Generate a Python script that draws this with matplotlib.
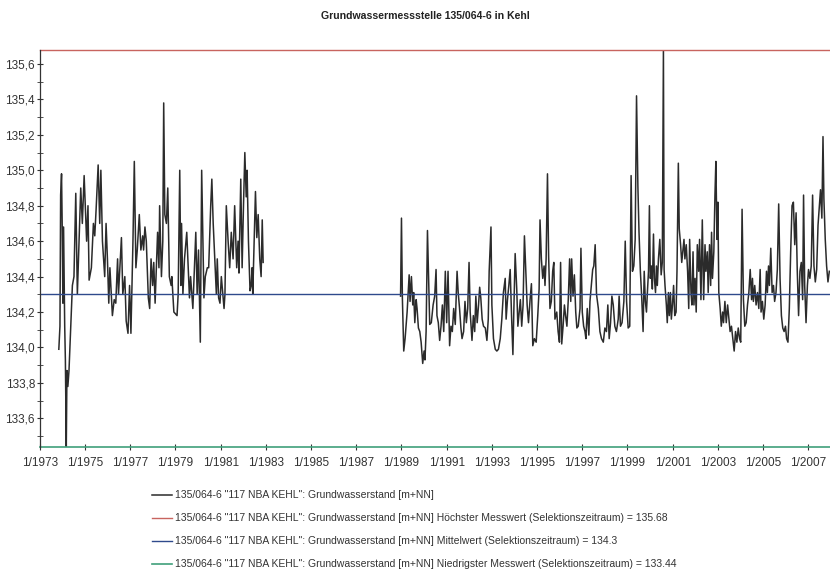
import numpy as np
import matplotlib
matplotlib.use("Agg")
import matplotlib.pyplot as plt
from matplotlib.ticker import MultipleLocator, FixedLocator, FuncFormatter

seg1_years = [
    1973.84, 1973.89, 1973.92, 1973.96, 1973.99, 1974.02, 1974.05, 1974.10, 1974.13, 1974.17,
    1974.20, 1974.24, 1974.29, 1974.44, 1974.51, 1974.59, 1974.66, 1974.81, 1974.88, 1974.96,
    1975.07, 1975.13, 1975.18, 1975.28, 1975.37, 1975.43, 1975.49, 1975.58, 1975.65, 1975.70,
    1975.77, 1975.87, 1975.93, 1975.99, 1976.05, 1976.10, 1976.21, 1976.29, 1976.36, 1976.44,
    1976.48, 1976.61, 1976.67, 1976.76, 1976.82, 1976.90, 1976.97, 1977.03, 1977.12, 1977.18,
    1977.25, 1977.31, 1977.40, 1977.47, 1977.55, 1977.59, 1977.65, 1977.71, 1977.80, 1977.86,
    1977.92, 1977.99, 1978.04, 1978.10, 1978.21, 1978.27, 1978.30, 1978.38, 1978.44, 1978.48,
    1978.53, 1978.60, 1978.66, 1978.73, 1978.81, 1978.84, 1978.93, 1979.07, 1979.12, 1979.19,
    1979.24, 1979.27, 1979.33, 1979.40, 1979.50, 1979.58, 1979.62, 1979.67, 1979.77, 1979.81,
    1979.90, 1979.96, 1980.02, 1980.10, 1980.16, 1980.26, 1980.32, 1980.41, 1980.47, 1980.56,
    1980.61, 1980.67, 1980.81, 1980.85, 1980.91, 1980.97, 1981.03, 1981.15, 1981.19, 1981.25,
    1981.33, 1981.40, 1981.47, 1981.55, 1981.62, 1981.71, 1981.77, 1981.81, 1981.89, 1981.95,
    1982.01, 1982.07, 1982.13, 1982.17, 1982.23, 1982.30, 1982.35, 1982.39, 1982.42, 1982.48,
    1982.54, 1982.60, 1982.66, 1982.73, 1982.79, 1982.84, 1982.88,
]
seg1_levels = [
    133.99, 134.12, 134.86, 134.98, 134.68, 134.25, 134.68, 134.12, 133.93, 133.44,
    133.87, 133.78, 133.87, 134.35, 134.40, 134.87, 134.30, 134.90, 134.70, 134.97,
    134.60, 134.80, 134.38, 134.45, 134.70, 134.63, 134.78, 135.03, 134.70, 135.00,
    134.60, 134.40, 134.70, 134.50, 134.25, 134.45, 134.18, 134.27, 134.25, 134.50,
    134.30, 134.62, 134.30, 134.40, 134.15, 134.08, 134.35, 134.08, 134.60, 135.05,
    134.45, 134.55, 134.75, 134.55, 134.63, 134.55, 134.68, 134.60, 134.28, 134.22,
    134.50, 134.35, 134.48, 134.25, 134.65, 134.45, 134.80, 134.40, 134.60, 135.38,
    134.75, 134.70, 134.90, 134.40, 134.35, 134.40, 134.20, 134.18, 134.30, 135.00,
    134.35, 134.70, 134.30, 134.50, 134.65, 134.40, 134.28, 134.40, 134.22, 134.35,
    134.65, 134.30, 134.55, 134.03, 135.00, 134.28, 134.40, 134.45, 134.45, 134.80,
    134.95, 134.70, 134.30, 134.50, 134.28, 134.25, 134.40, 134.22, 134.30, 134.80,
    134.60, 134.45, 134.65, 134.50, 134.80, 134.45, 134.60, 134.42, 134.95, 134.45,
    134.80, 135.10, 134.85, 135.00, 134.60, 134.32, 134.35, 134.45, 134.30, 134.60,
    134.88, 134.62, 134.75, 134.50, 134.40, 134.72, 134.48,
]

seg2_years = [
    1988.96, 1989.00, 1989.04, 1989.10, 1989.16, 1989.25, 1989.34, 1989.38, 1989.44, 1989.50,
    1989.54, 1989.59, 1989.65, 1989.69, 1989.75, 1989.81, 1989.87, 1989.94, 1990.00, 1990.04,
    1990.09, 1990.15, 1990.21, 1990.25, 1990.32, 1990.40, 1990.47, 1990.53, 1990.57, 1990.63,
    1990.69, 1990.75, 1990.81, 1990.87, 1990.94, 1991.00, 1991.06, 1991.13, 1991.19, 1991.25,
    1991.31, 1991.38, 1991.46, 1991.51, 1991.57, 1991.63, 1991.68, 1991.75, 1991.81, 1991.87,
    1991.93, 1991.99, 1992.04, 1992.12, 1992.18, 1992.24, 1992.29, 1992.35, 1992.41, 1992.46,
    1992.51, 1992.57, 1992.63, 1992.71, 1992.78, 1992.84, 1992.88, 1992.96, 1993.00, 1993.07,
    1993.15, 1993.22, 1993.29, 1993.37, 1993.44, 1993.51, 1993.59, 1993.63, 1993.69, 1993.75,
    1993.81, 1993.87, 1993.93, 1993.97, 1994.03, 1994.10, 1994.15, 1994.21, 1994.26, 1994.32,
    1994.38, 1994.44, 1994.50, 1994.56, 1994.62, 1994.69, 1994.75, 1994.81, 1994.88, 1994.96,
    1995.03, 1995.09, 1995.13, 1995.19, 1995.25, 1995.31, 1995.35, 1995.40, 1995.46, 1995.51,
    1995.57, 1995.63, 1995.69, 1995.74, 1995.79, 1995.87, 1995.93, 1995.99, 1996.04, 1996.09,
    1996.15, 1996.21, 1996.26, 1996.32, 1996.38, 1996.44, 1996.49, 1996.53, 1996.59, 1996.65,
    1996.71, 1996.76, 1996.82, 1996.90, 1996.94, 1997.00, 1997.06, 1997.12, 1997.16, 1997.22,
    1997.29, 1997.34, 1997.40, 1997.46, 1997.51, 1997.57, 1997.63, 1997.71, 1997.78, 1997.85,
    1997.93, 1998.00, 1998.07, 1998.13, 1998.19, 1998.25, 1998.31, 1998.37, 1998.44, 1998.51,
    1998.59, 1998.63, 1998.69, 1998.76, 1998.84, 1998.90, 1998.96, 1999.03, 1999.10, 1999.16,
    1999.22, 1999.28, 1999.34, 1999.40, 1999.46, 1999.51, 1999.57, 1999.63, 1999.69, 1999.74,
    1999.79, 1999.84, 1999.88, 1999.93, 1999.97, 2000.01, 2000.06, 2000.10, 2000.15, 2000.19,
    2000.24, 2000.28, 2000.32, 2000.37, 2000.43, 2000.49, 2000.54, 2000.59, 2000.62, 2000.66,
    2000.72, 2000.76, 2000.81, 2000.85, 2000.90, 2000.94, 2000.99, 2001.04, 2001.09, 2001.15,
    2001.19, 2001.25, 2001.29, 2001.35, 2001.40, 2001.46, 2001.50, 2001.54, 2001.60, 2001.66,
    2001.71, 2001.75, 2001.81, 2001.85, 2001.90, 2001.94, 2001.99, 2002.04, 2002.09, 2002.15,
    2002.19, 2002.25, 2002.31, 2002.37, 2002.43, 2002.47, 2002.53, 2002.57, 2002.63, 2002.68,
    2002.72, 2002.76, 2002.82, 2002.87, 2002.91, 2002.96, 2003.00, 2003.04, 2003.10, 2003.15,
    2003.21, 2003.25, 2003.31, 2003.37, 2003.43, 2003.49, 2003.54, 2003.60, 2003.66, 2003.72,
    2003.78, 2003.84, 2003.90, 2003.96, 2004.01, 2004.07, 2004.13, 2004.19, 2004.25, 2004.31,
    2004.37, 2004.43, 2004.49, 2004.53, 2004.57, 2004.63, 2004.69, 2004.75, 2004.81, 2004.87,
    2004.91, 2004.97, 2005.03, 2005.09, 2005.15, 2005.19, 2005.24, 2005.28, 2005.34, 2005.40,
    2005.46, 2005.51, 2005.57, 2005.63, 2005.69, 2005.75, 2005.81, 2005.87, 2005.93, 2005.99,
    2006.04, 2006.10, 2006.16, 2006.22, 2006.28, 2006.34, 2006.40, 2006.46, 2006.51, 2006.57,
    2006.63, 2006.69, 2006.75, 2006.79, 2006.84, 2006.90, 2006.96, 2007.01, 2007.07, 2007.13,
    2007.19, 2007.25, 2007.31, 2007.37, 2007.43, 2007.49, 2007.54, 2007.60, 2007.65, 2007.69,
    2007.75, 2007.81, 2007.87, 2007.93,
]
seg2_levels = [
    134.29, 134.73, 134.28, 133.98, 134.05, 134.20, 134.41, 134.26, 134.40, 134.24,
    134.31, 134.14, 134.27, 134.22, 134.11, 134.09, 134.03, 133.91, 133.98, 133.93,
    134.09, 134.66, 134.33, 134.13, 134.14, 134.24, 134.29, 134.44, 134.18, 134.14,
    134.04, 134.12, 134.24, 134.09, 134.43, 134.14, 134.43, 134.01, 134.12, 134.09,
    134.22, 134.13, 134.43, 134.31, 134.22, 134.11, 134.05, 134.09, 134.26, 134.14,
    134.22, 134.48, 134.20, 134.04, 134.18, 134.09, 134.29, 134.14, 134.24, 134.34,
    134.28, 134.16, 134.12, 134.11, 134.04, 134.16, 134.43, 134.68, 134.24, 134.05,
    133.99, 133.98, 133.99, 134.05, 134.16, 134.31, 134.39, 134.16, 134.27, 134.35,
    134.44, 134.18, 133.96, 134.20, 134.53, 134.33, 134.12, 134.20, 134.27, 134.12,
    134.24, 134.63, 134.43, 134.24, 134.14, 134.27, 134.36, 134.01, 134.05, 134.03,
    134.18, 134.33, 134.72, 134.50, 134.39, 134.46, 134.35, 134.50, 134.98, 134.52,
    134.22, 134.26, 134.43, 134.48, 134.16, 134.20, 134.09, 134.03, 134.48, 134.02,
    134.12, 134.24, 134.18, 134.12, 134.27, 134.50, 134.26, 134.50, 134.29, 134.41,
    134.20, 134.11, 134.12, 134.22, 134.56, 134.20, 134.12, 134.09, 134.05, 134.22,
    134.07, 134.26, 134.35, 134.44, 134.46, 134.58, 134.30, 134.22, 134.09, 134.05,
    134.03, 134.11, 134.09, 134.24, 134.05, 134.14, 134.29, 134.24, 134.12, 134.09,
    134.16, 134.29, 134.12, 134.14, 134.26, 134.60, 134.26, 134.11, 134.12, 134.97,
    134.43, 134.46, 134.61, 135.42, 134.91, 134.65, 134.43, 134.28, 134.09, 134.43,
    134.26, 134.20, 134.31, 134.43, 134.80, 134.39, 134.46, 134.33, 134.64, 134.39,
    134.31, 134.46, 134.35, 134.50, 134.61, 134.41, 134.48, 135.68, 134.44, 134.35,
    134.24, 134.14, 134.31, 134.18, 134.31, 134.16, 134.24, 134.35, 134.18, 134.20,
    134.43, 135.04, 134.67, 134.58, 134.48, 134.56, 134.61, 134.50, 134.58, 134.43,
    134.22, 134.61, 134.31, 134.24, 134.54, 134.24, 134.39, 134.20, 134.58, 134.43,
    134.61, 134.27, 134.72, 134.27, 134.58, 134.43, 134.54, 134.31, 134.58, 134.35,
    134.65, 134.39, 134.54, 134.86, 135.05, 134.61, 134.82, 134.31, 134.22, 134.12,
    134.20, 134.14, 134.26, 134.14, 134.24, 134.16, 134.09, 134.12, 134.05, 133.98,
    134.09, 134.03, 134.11, 134.05, 134.03, 134.78, 134.27, 134.12, 134.14, 134.24,
    134.31, 134.44, 134.27, 134.39, 134.26, 134.35, 134.24, 134.31, 134.22, 134.44,
    134.20, 134.26, 134.16, 134.24, 134.43, 134.31, 134.46, 134.35, 134.56, 134.31,
    134.35, 134.26, 134.31, 134.44, 134.81, 134.39, 134.18, 134.11, 134.09, 134.12,
    134.05, 134.03, 134.22, 134.54, 134.80, 134.82, 134.58, 134.76, 134.44, 134.18,
    134.43, 134.48, 134.27, 134.86, 134.35, 134.14, 134.35, 134.44, 134.39, 134.46,
    134.86, 134.46, 134.37, 134.44, 134.69, 134.80, 134.89, 134.73, 135.19, 134.84,
    134.61, 134.46, 134.37, 134.43,
]

max_level = 135.68
mean_level = 134.3
min_level = 133.44
year_ticks = list(range(1973, 2008, 2))

label_base = '135/064-6 "117 NBA KEHL": Grundwasserstand [m+NN]'
legend_labels = [
    label_base,
    label_base + " Höchster Messwert (Selektionszeitraum) = 135.68",
    label_base + " Mittelwert (Selektionszeitraum) = 134.3",
    label_base + " Niedrigster Messwert (Selektionszeitraum) = 133.44",
]

plt.rcParams["font.family"] = ["Liberation Sans", "DejaVu Sans"]

# Lücke 1983-1988 als NaN
years = np.array(seg1_years + [np.nan] + seg2_years)
levels = np.array(seg1_levels + [np.nan] + seg2_levels)

fig = plt.figure(figsize=(8.3, 5.72), dpi=100)
ax = fig.add_axes([0.048, 0.219, 0.952, 0.694])

ax.plot(years, levels, color="#2b2b2b", lw=1.1, label=legend_labels[0])
ax.axhline(max_level, color="#c8645f", lw=1.0, clip_on=False, label=legend_labels[1])
ax.axhline(mean_level, color="#2f4a8c", lw=1.0, label=legend_labels[2])
ax.axhline(min_level, color="#3fa07a", lw=1.2, clip_on=False, label=legend_labels[3])

ax.set_xlim(1973, 2007.96)
ax.set_ylim(min_level, max_level)

for s in ["top", "right", "bottom"]:
    ax.spines[s].set_visible(False)
ax.spines["left"].set_linewidth(0.9)
ax.spines["left"].set_color("#333333")

ax.xaxis.set_major_locator(FixedLocator(year_ticks))
ax.xaxis.set_major_formatter(FuncFormatter(lambda v, p: "1/%d" % round(v)))
ax.yaxis.set_major_locator(FixedLocator(np.arange(133.6, 135.61, 0.2)))
ax.yaxis.set_minor_locator(MultipleLocator(0.1))
ax.yaxis.set_major_formatter(FuncFormatter(lambda v, p: ("%.1f" % v).replace(".", ",")))

ax.tick_params(axis="both", which="both", direction="inout", colors="#333333", labelsize=8.5)
ax.tick_params(axis="x", length=5, pad=5)
ax.tick_params(axis="y", which="major", length=5, pad=1)
ax.tick_params(axis="y", which="minor", length=4)

fig.text(0.513, 0.972, "Grundwassermessstelle 135/064-6 in Kehl",
         ha="center", va="center", fontsize=7.6, fontweight="bold", color="#222222")

fig.legend(loc="upper left", bbox_to_anchor=(0.183, 0.143), frameon=False,
           fontsize=7.5, handlelength=1.9, handletextpad=0.3, labelspacing=1.25,
           borderpad=0, borderaxespad=0, labelcolor="#333333")

fig.savefig("out.png", dpi=100)
plt.close(fig)
